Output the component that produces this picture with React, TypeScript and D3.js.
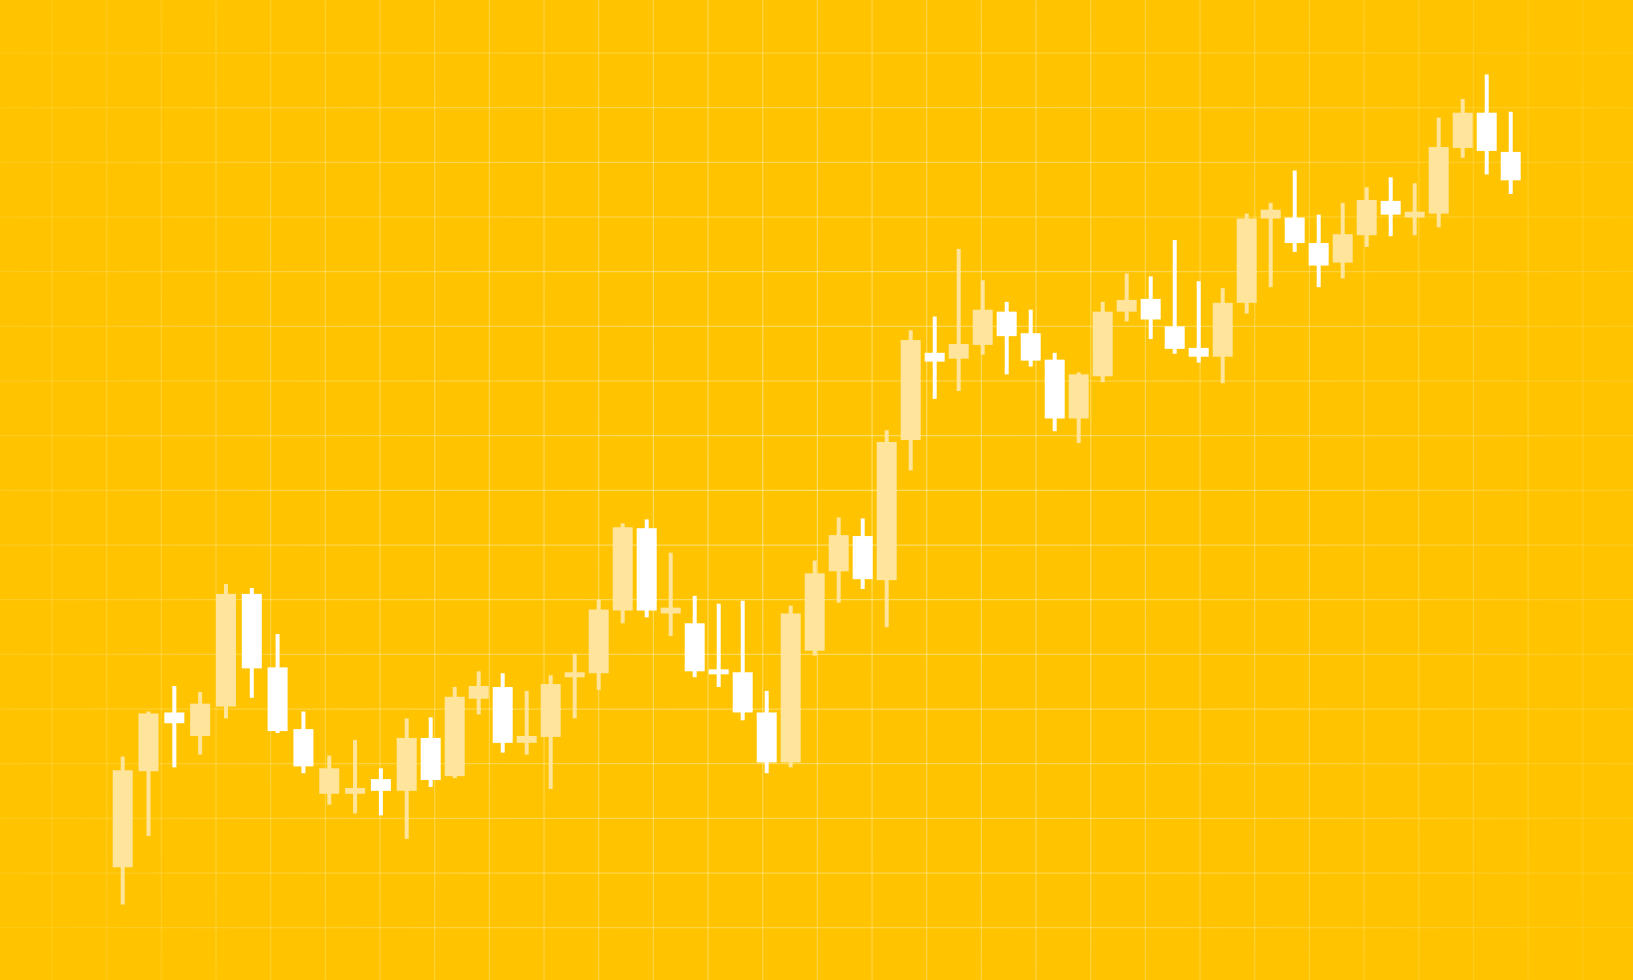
import * as d3 from "d3";

// candle values (price units 0..100)
const opens = [
  11.5, 21.3, 27.3, 24.9, 27.9, 39.4, 31.9, 25.6, 19.0, 19.0,
  20.5, 19.3, 24.7, 20.8, 28.7, 29.9, 24.2, 24.8, 31.0, 31.3,
  37.7, 46.1, 37.4, 36.4, 31.7, 31.4, 27.3, 22.2, 33.6, 41.7,
  45.3, 40.8, 55.1, 64.0, 63.4, 64.8, 68.2, 66.0, 63.3, 57.3,
  61.6, 68.2, 69.5, 66.7, 64.5, 63.6, 69.1, 77.7, 77.8, 75.2,
  73.2, 76.0, 79.5, 77.8, 78.2, 84.9, 88.5, 84.5,
];
const closes = [
  21.4, 27.2, 26.2, 28.2, 39.4, 31.8, 25.4, 21.8, 21.6, 19.6,
  19.3, 24.7, 20.4, 28.9, 30.0, 24.2, 24.9, 30.2, 31.4, 37.8,
  46.2, 37.7, 38.0, 31.5, 31.3, 27.3, 22.2, 37.4, 41.5, 45.4,
  40.9, 54.9, 65.3, 63.1, 64.9, 68.4, 65.7, 63.2, 57.3, 61.8,
  68.2, 69.4, 67.4, 64.4, 63.6, 69.1, 77.7, 78.6, 75.2, 72.9,
  76.1, 79.6, 78.1, 78.4, 85.0, 88.5, 84.6, 81.6,
];
const highs = [
  22.8, 27.4, 30.0, 29.4, 40.4, 40.0, 35.3, 27.4, 22.9, 24.5,
  21.6, 26.7, 26.8, 29.9, 31.5, 31.3, 29.5, 31.1, 33.3, 38.8,
  46.6, 47.0, 43.6, 39.2, 38.4, 38.7, 29.5, 38.2, 42.8, 47.2,
  47.1, 56.1, 66.3, 67.7, 74.6, 71.4, 69.2, 68.4, 64.0, 62.0,
  69.2, 72.1, 71.8, 75.5, 71.3, 70.6, 78.2, 79.3, 82.6, 78.1,
  79.3, 80.9, 81.9, 81.3, 88.0, 89.9, 92.4, 88.6,
];
const lows = [
  7.7, 14.7, 21.7, 23.0, 26.7, 28.8, 25.2, 21.1, 17.9, 17.0,
  16.8, 14.4, 19.7, 20.6, 27.1, 23.2, 23.0, 19.5, 26.7, 29.6,
  36.4, 37.0, 35.1, 30.9, 29.9, 26.5, 21.1, 21.7, 33.1, 38.5,
  39.9, 36.0, 52.0, 59.3, 60.1, 63.8, 61.8, 62.6, 56.0, 54.8,
  61.0, 67.2, 65.4, 63.9, 63.0, 60.9, 68.0, 70.7, 74.3, 70.7,
  71.6, 74.8, 75.9, 76.0, 76.8, 83.9, 82.2, 80.2,
];

const width = 1633;
const height = 980;
const bg = "#FFC300";
const riseColor = "#FFE49C";
const fallColor = "#FFFFFF";

export default function App() {
  const n = opens.length;
  // the first dozen candles sit a bit wider apart than the rest
  const x = d3.scaleLinear().domain([0, 11, n - 1]).range([122.7, 406.7, 1510.7]);
  const y = d3.scaleLinear().domain([0, 100]).range([height, 0]);
  const bodyW = 20;
  const wickW = 4;

  const gridStep = 54.67;
  const vLines = d3.range(52, width, gridStep);
  const hLines = d3.range(53, height, gridStep);

  const candles = d3.range(n).map((i) => ({
    i,
    open: opens[i],
    close: closes[i],
    high: highs[i],
    low: lows[i],
  }));

  return (
    <svg
      width={width}
      height={height}
      style={{ position: "absolute", left: 0, top: 0, display: "block" }}
    >
      <defs>
        <radialGradient
          id="gridGlow"
          gradientUnits="userSpaceOnUse"
          cx={width / 2}
          cy={height / 2}
          r={950}
        >
          <stop offset="0%" stopColor="#FFF3C0" stopOpacity={0.55} />
          <stop offset="55%" stopColor="#FFF3C0" stopOpacity={0.35} />
          <stop offset="100%" stopColor="#FFF3C0" stopOpacity={0.08} />
        </radialGradient>
      </defs>
      <rect width={width} height={height} fill={bg} />
      <g stroke="url(#gridGlow)" strokeWidth={1.2}>
        {vLines.map((v) => (
          <line key={`v${v}`} x1={v} x2={v} y1={0} y2={height} />
        ))}
        {hLines.map((h) => (
          <line key={`h${h}`} x1={0} x2={width} y1={h} y2={h} />
        ))}
      </g>
      <g>
        {candles.map((c) => {
          const color = c.close >= c.open ? riseColor : fallColor;
          const top = y(Math.max(c.open, c.close));
          const bottom = y(Math.min(c.open, c.close));
          const cx = x(c.i);
          return (
            <g key={c.i} fill={color}>
              <rect
                x={cx - wickW / 2}
                y={y(c.high)}
                width={wickW}
                height={y(c.low) - y(c.high)}
              />
              <rect
                x={cx - bodyW / 2}
                y={top}
                width={bodyW}
                height={Math.max(bottom - top, 5)}
              />
            </g>
          );
        })}
      </g>
    </svg>
  );
}
